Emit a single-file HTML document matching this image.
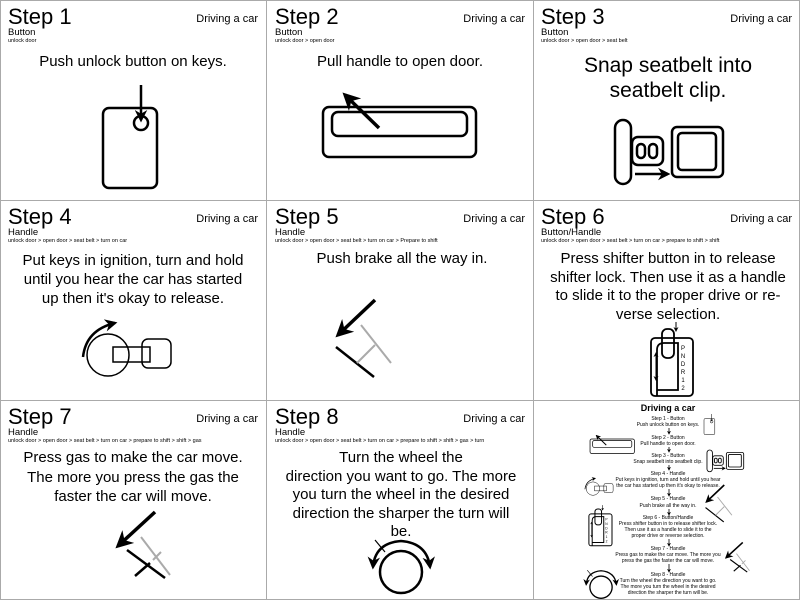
<!DOCTYPE html>
<html><head><meta charset="utf-8"><style>
html,body{margin:0;padding:0;background:#fff;}
svg{display:block;font-family:"Liberation Sans",Arial,sans-serif;}
</style></head><body>
<svg width="800" height="600" viewBox="0 0 800 600" xmlns="http://www.w3.org/2000/svg">
<defs>
<marker id="ah" viewBox="0 0 10 10" refX="8" refY="5" markerWidth="5" markerHeight="5" orient="auto-start-reverse" markerUnits="strokeWidth">
<path d="M0,0 L10,5 L0,10 L3,5 z" fill="#000"/></marker>
<g id="key" fill="none" stroke="#000" stroke-width="2.5">
<rect x="103" y="108" width="54" height="80" rx="6"/>
<circle cx="141" cy="123" r="7"/>
<line x1="141" y1="85" x2="141" y2="120" marker-end="url(#ah)"/>
</g>
<g id="handle" fill="none" stroke="#000" stroke-width="2.5">
<rect x="56" y="107" width="153" height="50" rx="6"/>
<rect x="65" y="112" width="135" height="24" rx="6"/>
<line x1="112" y1="128" x2="78" y2="95" stroke-width="3.5" marker-end="url(#ah)"/>
</g>
<g id="belt" fill="none" stroke="#000" stroke-width="2.5">
<rect x="82" y="120" width="16" height="64" rx="8"/>
<rect x="99" y="137" width="31" height="28" rx="6"/>
<rect x="104" y="144" width="8" height="14" rx="4"/>
<rect x="116" y="144" width="8" height="14" rx="4"/>
<rect x="139" y="127" width="51" height="50" rx="5"/>
<rect x="145" y="133" width="38" height="37" rx="4"/>
<line x1="102" y1="174" x2="135" y2="174" stroke-width="2.5" marker-end="url(#ah)"/>
</g>
<g id="ign" fill="none" stroke="#000" stroke-width="1.5">
<circle cx="108" cy="155" r="21"/>
<rect x="113" y="147" width="37" height="15"/>
<rect x="142" y="139" width="29" height="29" rx="6"/>
<path d="M83,157 Q86,130 115,123" stroke-width="2.5" marker-end="url(#ah)"/>
</g>
<g id="brake" fill="none" stroke-width="2">
<line x1="108" y1="100" x2="71" y2="135" stroke="#000" stroke-width="3.5" marker-end="url(#ah)"/>
<line x1="69" y1="147" x2="107" y2="177" stroke="#000" stroke-width="2.5"/>
<line x1="94" y1="125" x2="124" y2="163" stroke="#aaa"/>
<line x1="90" y1="163" x2="108" y2="145" stroke="#aaa"/>
</g>
<g id="shift" fill="none" stroke="#000" stroke-width="1.8">
<rect x="118" y="138" width="42" height="58" rx="4"/>
<path d="M124,196 V150 Q124,143 131,143 H145 V190 H124" />
<rect x="129" y="129" width="12" height="29" rx="5"/>
<line x1="143" y1="122" x2="143" y2="131" stroke-width="1" marker-end="url(#ah)"/>
<line x1="123" y1="153" x2="123" y2="180" stroke-width="1" marker-start="url(#ah)" marker-end="url(#ah)"/>
<g font-size="6" fill="#000" stroke="none" text-anchor="middle"><text x="150" y="150">P</text><text x="150" y="158">N</text><text x="150" y="166">D</text><text x="150" y="174">R</text><text x="150" y="182">1</text><text x="150" y="190">2</text></g>
</g>
<g id="gas" fill="none" stroke-width="2">
<line x1="155" y1="112" x2="118" y2="146" stroke="#000" stroke-width="3.5" marker-end="url(#ah)"/>
<line x1="141" y1="137" x2="170" y2="175" stroke="#aaa"/>
<line x1="153" y1="160" x2="161" y2="152" stroke="#aaa"/>
<line x1="127" y1="150" x2="165" y2="178" stroke="#000" stroke-width="2.5"/>
<line x1="135" y1="176" x2="150" y2="163" stroke="#000" stroke-width="2.5"/>
</g>
<g id="wheel" fill="none" stroke="#000" stroke-width="2.5">
<circle cx="134" cy="172" r="21"/>
<path d="M106,167 Q108,143 134,141 Q160,143 163,167" marker-start="url(#ah)" marker-end="url(#ah)"/>
<line x1="108" y1="140" x2="118" y2="152" stroke-width="1.2"/>
</g>
</defs>
<rect width="800" height="600" fill="#fff"/>
<g fill="none" stroke="#aaa" stroke-width="1">
<rect x="0.5" y="0.5" width="799" height="599"/>
<line x1="266.5" y1="0" x2="266.5" y2="600"/><line x1="533.5" y1="0" x2="533.5" y2="600"/>
<line x1="0" y1="200.5" x2="800" y2="200.5"/><line x1="0" y1="400.5" x2="800" y2="400.5"/>
</g>

<g transform="translate(0,0)">
<text x="8" y="24" font-size="22">Step 1</text><text x="258" y="22" font-size="11" text-anchor="end">Driving a car</text>
<text x="8" y="35" font-size="9.5">Button</text><text x="8" y="42" font-size="5.5">unlock door</text>
<text x="133" y="66" font-size="15" text-anchor="middle">Push unlock button on keys.</text>
<use href="#key"/>
</g>
<g transform="translate(267,0)">
<text x="8" y="24" font-size="22">Step 2</text><text x="258" y="22" font-size="11" text-anchor="end">Driving a car</text>
<text x="8" y="35" font-size="9.5">Button</text><text x="8" y="42" font-size="5.5">unlock door &gt; open door</text>
<text x="133" y="66" font-size="15" text-anchor="middle">Pull handle to open door.</text>
<use href="#handle"/>
</g>
<g transform="translate(533,0)">
<text x="8" y="24" font-size="22">Step 3</text><text x="259" y="22" font-size="11" text-anchor="end">Driving a car</text>
<text x="8" y="35" font-size="9.5">Button</text><text x="8" y="42" font-size="5.5">unlock door &gt; open door &gt; seat belt</text>
<text x="135" y="72" font-size="21" text-anchor="middle">Snap seatbelt into</text>
<text x="135" y="97" font-size="21" text-anchor="middle">seatbelt clip.</text>
<use href="#belt"/>
</g>
<g transform="translate(0,200)">
<text x="8" y="24" font-size="22">Step 4</text><text x="258" y="22" font-size="11" text-anchor="end">Driving a car</text>
<text x="8" y="35" font-size="9.5">Handle</text><text x="8" y="42" font-size="5.5">unlock door &gt; open door &gt; seat belt &gt; turn on car</text>
<g font-size="15" text-anchor="middle"><text x="133" y="65">Put keys in ignition, turn and hold</text><text x="133" y="84">until you hear the car has started</text><text x="133" y="103">up then it's okay to release.</text></g>
<use href="#ign"/>
</g>
<g transform="translate(267,200)">
<text x="8" y="24" font-size="22">Step 5</text><text x="258" y="22" font-size="11" text-anchor="end">Driving a car</text>
<text x="8" y="35" font-size="9.5">Handle</text><text x="8" y="42" font-size="5.5">unlock door &gt; open door &gt; seat belt &gt; turn on car &gt; Prepare to shift</text>
<text x="135" y="63" font-size="15" text-anchor="middle">Push brake all the way in.</text>
<use href="#brake"/>
</g>
<g transform="translate(533,200)">
<text x="8" y="24" font-size="22">Step 6</text><text x="259" y="22" font-size="11" text-anchor="end">Driving a car</text>
<text x="8" y="35" font-size="9.5">Button/Handle</text><text x="8" y="42" font-size="5.5">unlock door &gt; open door &gt; seat belt &gt; turn on car &gt; prepare to shift &gt; shift</text>
<g font-size="15" text-anchor="middle"><text x="135" y="63">Press shifter button in to release</text><text x="135" y="82">shifter lock. Then use it as a handle</text><text x="135" y="100">to slide it to the proper drive or re-</text><text x="135" y="119">verse selection.</text></g>
<use href="#shift"/>
</g>
<g transform="translate(0,400)">
<text x="8" y="24" font-size="22">Step 7</text><text x="258" y="22" font-size="11" text-anchor="end">Driving a car</text>
<text x="8" y="35" font-size="9.5">Handle</text><text x="8" y="42" font-size="5.5">unlock door &gt; open door &gt; seat belt &gt; turn on car &gt; prepare to shift &gt; shift &gt; gas</text>
<g font-size="15" text-anchor="middle"><text x="133" y="62">Press gas to make the car move.</text><text x="133" y="82">The more you press the gas the</text><text x="133" y="101">faster the car will move.</text></g>
<use href="#gas"/>
</g>
<g transform="translate(267,400)">
<text x="8" y="24" font-size="22">Step 8</text><text x="258" y="22" font-size="11" text-anchor="end">Driving a car</text>
<text x="8" y="35" font-size="9.5">Handle</text><text x="8" y="42" font-size="5.5">unlock door &gt; open door &gt; seat belt &gt; turn on car &gt; prepare to shift &gt; shift &gt; gas &gt; turn</text>
<g font-size="15" text-anchor="middle"><text x="134" y="62">Turn the wheel the</text><text x="134" y="81">direction you want to go. The more</text><text x="134" y="99">you turn the wheel in the desired</text><text x="134" y="118">direction the sharper the turn will</text><text x="134" y="136">be.</text></g>
<use href="#wheel"/>
</g>
<g transform="translate(533,400)">
<text x="135" y="11" font-size="9" font-weight="bold" text-anchor="middle">Driving a car</text>
<g font-size="5" text-anchor="middle">
<text x="135" y="20">Step 1 - Button</text><text x="135" y="26">Push unlock button on keys.</text>
<text x="135" y="39">Step 2 - Button</text><text x="135" y="45">Pull handle to open door.</text>
<text x="135" y="57">Step 3 - Button</text><text x="135" y="63">Snap seatbelt into  seatbelt clip.</text>
<text x="135" y="75">Step 4 - Handle</text><text x="135" y="81">Put keys in ignition, turn and hold until you hear</text><text x="135" y="87">the car has started up then it's okay to release.</text>
<text x="135" y="100">Step 5 - Handle</text><text x="135" y="107">Push brake all the way in.</text>
<text x="135" y="119">Step 6 - Button/Handle</text><text x="135" y="125">Press shifter button in to release shifter lock.</text><text x="135" y="131">Then use it as a handle to slide it to the</text><text x="135" y="137">proper drive or reverse selection.</text>
<text x="135" y="150">Step 7 - Handle</text><text x="135" y="156">Press gas to make the car move. The more you</text><text x="135" y="162">press the gas the faster the car will move.</text>
<text x="135" y="176">Step 8 - Handle</text><text x="135" y="182">Turn the wheel the direction you want to go.</text><text x="135" y="188">The more you turn the wheel in the desired</text><text x="135" y="194">direction the sharper the turn will be.</text>
</g>
<g stroke="#000" stroke-width="0.8" fill="none">
<line x1="136" y1="28" x2="136" y2="34" marker-end="url(#ah)"/>
<line x1="136" y1="47" x2="136" y2="52" marker-end="url(#ah)"/>
<line x1="136" y1="65" x2="136" y2="70" marker-end="url(#ah)"/>
<line x1="136" y1="89" x2="136" y2="96" marker-end="url(#ah)"/>
<line x1="136" y1="109" x2="136" y2="115" marker-end="url(#ah)"/>
<line x1="136" y1="139" x2="136" y2="146" marker-end="url(#ah)"/>
<line x1="136" y1="164" x2="136" y2="172" marker-end="url(#ah)"/>
</g>
<use href="#key" transform="translate(150.4,-3) scale(0.2)"/>
<use href="#handle" transform="translate(40.8,8) scale(0.29)"/>
<use href="#belt" transform="translate(146.1,9.2) scale(0.34)"/>
<use href="#ign" transform="translate(25.4,39) scale(0.32)"/>
<use href="#brake" transform="translate(139.4,37) scale(0.48)"/>
<use href="#shift" transform="translate(-9,38) scale(0.55)"/>
<use href="#gas" transform="translate(140,92) scale(0.45)"/>
<use href="#wheel" transform="translate(-3,96) scale(0.53)"/>
</g>
</svg>
</body></html>
